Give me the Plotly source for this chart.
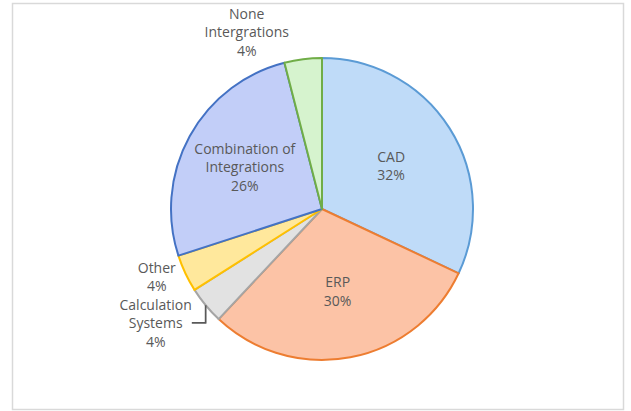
import plotly.graph_objects as go

categories = ["CAD", "ERP", "Calculation<br>Systems", "Other", "Combination of<br>Integrations", "None<br>Intergrations"]
values = [32, 30, 4, 4, 26, 4]
fill_colors = ["#BFDBF8", "#FCC3A6", "#E2E2E2", "#FFE89C", "#C2CEF8", "#D6F3CE"]
line_colors = ["#5B9BD5", "#ED7D31", "#A5A5A5", "#FFC000", "#4472C4", "#70AD47"]
text_positions = ["inside", "inside", "outside", "outside", "inside", "outside"]

W, H = 631, 411
cx, cy, r = 322, 209, 151

fig = go.Figure(go.Pie(
    labels=categories,
    values=values,
    sort=False,
    direction="clockwise",
    rotation=0,
    marker=dict(colors=fill_colors, line=dict(color=line_colors, width=2)),
    texttemplate="%{label}<br>%{percent:.0%}",
    textposition=text_positions,
    insidetextorientation="horizontal",
    textfont=dict(family="Open Sans, sans-serif", size=14, color="#595959"),
    showlegend=False,
    domain=dict(x=[(cx - r) / W, (cx + r) / W], y=[1 - (cy + r) / H, 1 - (cy - r) / H]),
    hoverinfo="skip",
))

fig.update_layout(
    width=W, height=H,
    margin=dict(l=0, r=0, t=0, b=0),
    paper_bgcolor="white",
    shapes=[dict(type="rect", xref="paper", yref="paper",
                 x0=12.5 / W, x1=623.5 / W,
                 y0=1 - 409.5 / H, y1=1 - 3.5 / H,
                 line=dict(color="#D9D9D9", width=1.5))],
)

fig.write_html("out.html", config={"displayModeBar": False},
               post_script="document.body.style.margin='0';")
